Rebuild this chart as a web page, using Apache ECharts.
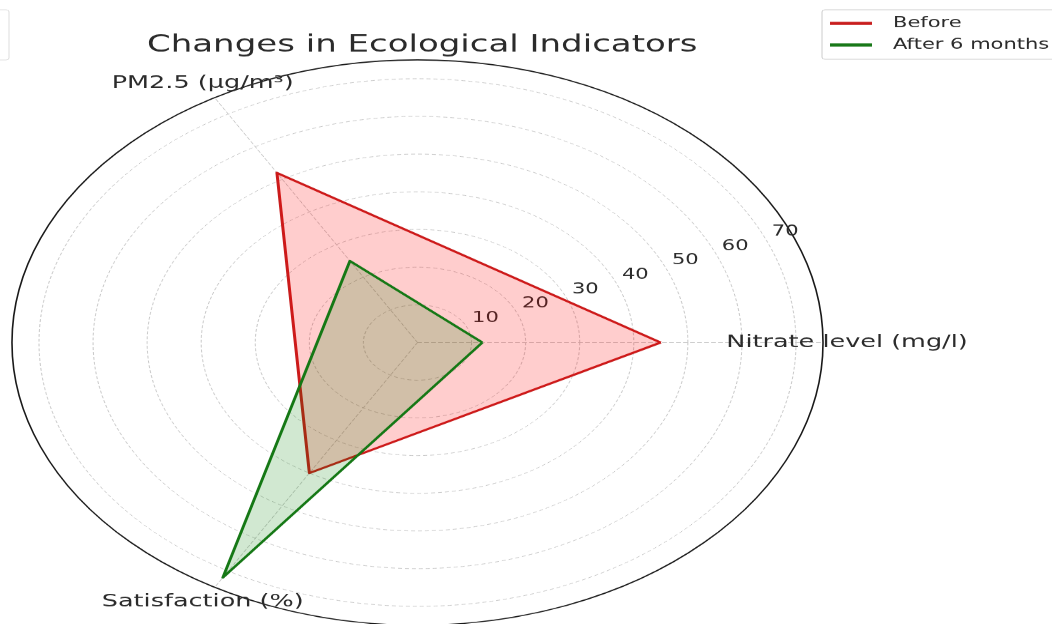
<!DOCTYPE html>
<html>
<head>
    <meta charset="utf-8">
    <title>Changes in Ecological Indicators</title>
    <script src="https://cdn.jsdelivr.net/npm/echarts@6/dist/echarts.min.js"></script>
</head>
<body style="margin: 0; width: 1052px; height: 624px; overflow: hidden; background: #fff;">
    <!-- the source picture is squashed vertically, so the chart is drawn taller and scaled down -->
    <div id="chartContainer" style="width: 1052px; height: 895px; transform: scaleY(0.697); transform-origin: 0 0;"></div>

    <script type="text/javascript">
        var indicators = ['Nitrate level (mg/l)', 'PM2.5 (µg/m³)', 'Satisfaction (%)'];
        var before = [45, 52, 40];
        var after6 = [12, 25, 72];
        var seriesNames = ['Before', 'After 6 months'];
        var rMax = 70;      // last dashed ring
        var rOuter = 75;    // solid outer circle

        var font = 'DejaVu Sans';
        var textColor = '#2b2b2b';
        var cx = 417.5, cy = 491.4;
        var pxPerUnit = 5.407;

        var dom = document.getElementById('chartContainer');
        var myChart = echarts.init(dom);

        var option = {
            backgroundColor: '#fff',
            animation: false,
            title: {
                text: 'Changes in Ecological Indicators',
                left: 142,
                top: 43,
                textStyle: { fontFamily: font, fontSize: 34, fontWeight: 'normal', color: textColor }
            },
            legend: {
                data: seriesNames,
                orient: 'vertical',
                left: 822,
                top: 14,
                padding: [9, 10, 10, 8],
                itemGap: 10,
                icon: 'rect',
                itemWidth: 42,
                itemHeight: 4.5,
                borderColor: '#ccc',
                borderWidth: 1,
                borderRadius: 3,
                backgroundColor: '#fff',
                textStyle: { fontFamily: font, fontSize: 21, color: textColor, padding: [0, 0, 0, 16] }
            },
            graphic: [{
                type: 'rect',
                shape: { x: -50, y: 14, width: 59, height: 72, r: 3 },
                style: { fill: '#fff', stroke: '#ddd', lineWidth: 1 }
            }],
            radar: [
                {
                    // data grid: dashed rings 10..70
                    center: [cx, cy],
                    radius: rMax * pxPerUnit,
                    startAngle: 0,
                    shape: 'circle',
                    splitNumber: 7,
                    indicator: indicators.map(function (n) { return { name: n, max: rMax, min: 0 }; }),
                    axisName: { show: false },
                    axisLine: { show: false },
                    axisTick: { show: false },
                    axisLabel: { show: false },
                    splitArea: { show: false },
                    splitLine: { lineStyle: { color: '#c8c8c8', type: [4, 3], width: 1 } }
                },
                {
                    // outer circle, spokes and names
                    center: [cx, cy],
                    radius: rOuter * pxPerUnit,
                    startAngle: 0,
                    shape: 'circle',
                    splitNumber: 1,
                    nameGap: 24,
                    indicator: indicators.map(function (n) { return { name: n, max: rOuter, min: 0 }; }),
                    axisName: {
                        fontFamily: font, fontSize: 25.5, color: textColor,
                        align: 'center', verticalAlign: 'middle'
                    },
                    axisLine: { lineStyle: { color: '#c8c8c8', type: [4, 3], width: 1 } },
                    axisTick: { show: false },
                    axisLabel: { show: false },
                    splitArea: { show: false },
                    splitLine: { lineStyle: { color: '#1a1a1a', width: 1.6 } }
                },
                {
                    // radial tick labels at 22.5 deg
                    center: [cx + 18, cy - 14],
                    radius: rMax * pxPerUnit,
                    startAngle: 22.5,
                    shape: 'circle',
                    splitNumber: 7,
                    indicator: [{ name: '', max: rMax, min: 0 }],
                    axisName: { show: false },
                    axisLine: { show: false },
                    axisTick: { show: false },
                    splitArea: { show: false },
                    splitLine: { show: false },
                    axisLabel: {
                        show: true, margin: 0, align: 'center', verticalAlign: 'middle',
                        fontFamily: font, fontSize: 21, color: textColor,
                        formatter: function (v) { return v === 0 ? '' : v; }
                    }
                }
            ],
            series: [
                {
                    type: 'radar',
                    name: seriesNames[0],
                    radarIndex: 0,
                    symbol: 'none',
                    itemStyle: { color: '#c81d1d' },
                    lineStyle: { color: '#c81d1d', width: 3 },
                    areaStyle: { color: 'rgba(255, 0, 0, 0.28)' },
                    data: [{ name: seriesNames[0], value: before }]
                },
                {
                    type: 'radar',
                    name: seriesNames[1],
                    radarIndex: 0,
                    symbol: 'none',
                    itemStyle: { color: '#187818' },
                    lineStyle: { color: '#187818', width: 3 },
                    areaStyle: { color: 'rgba(0, 128, 0, 0.26)' },
                    data: [{ name: seriesNames[1], value: after6 }]
                }
            ]
        };

        myChart.setOption(option);
    </script>
</body>
</html>
